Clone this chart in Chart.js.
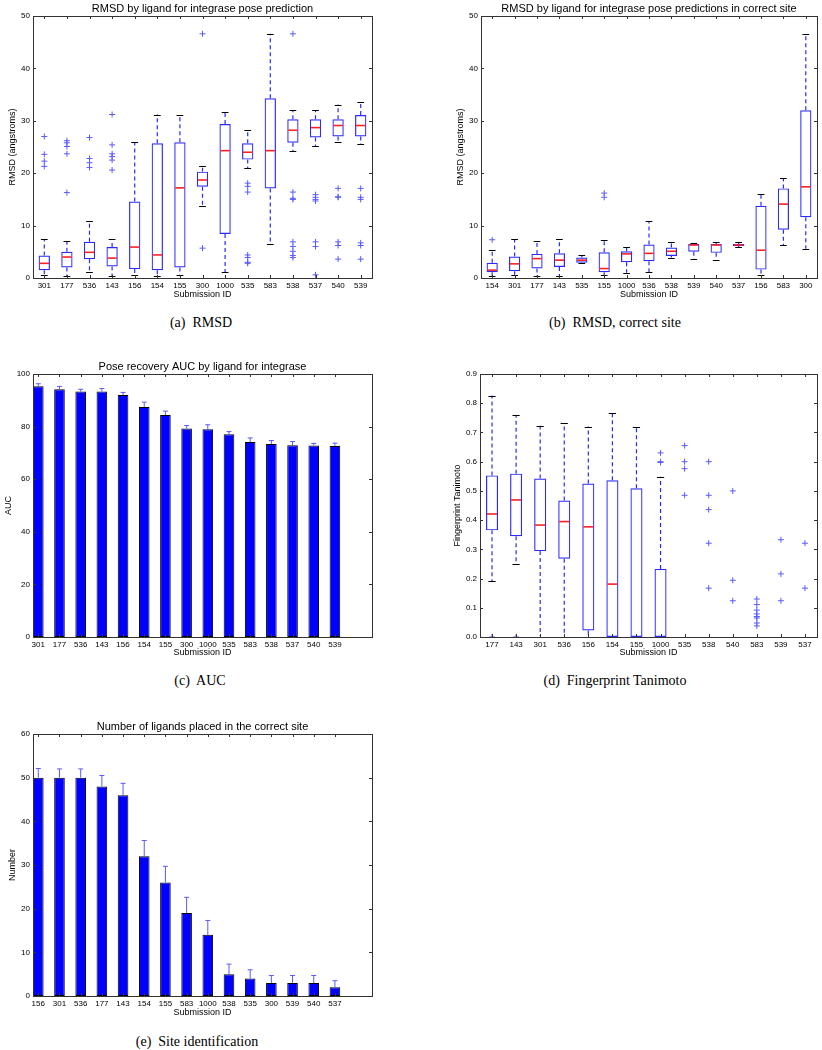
<!DOCTYPE html>
<html>
<head>
<meta charset="utf-8">
<script src="https://cdn.jsdelivr.net/npm/chart.js@4.4.1/dist/chart.umd.min.js"></script>
<style>
  body { margin: 0; background: #fff; width: 822px; height: 1050px; position: relative; overflow: hidden; }
  canvas { position: absolute; }
  .cap { position: absolute; font: 14px "Liberation Serif", "Times New Roman", serif; transform: translate(-50%, -50%); white-space: nowrap; }
</style>
</head>
<body>
<canvas id="rmsd" width="411" height="305" style="left:0;top:0"></canvas>
<canvas id="rmsdSite" width="411" height="305" style="left:411px;top:0"></canvas>
<canvas id="auc" width="411" height="305" style="left:0;top:358px"></canvas>
<canvas id="tanimoto" width="411" height="305" style="left:411px;top:358px"></canvas>
<canvas id="site" width="411" height="305" style="left:0;top:718px"></canvas>
<div class="cap" style="left:201px;top:323px">(a)&nbsp; RMSD</div>
<div class="cap" style="left:615px;top:323px">(b)&nbsp; RMSD, correct site</div>
<div class="cap" style="left:200px;top:681px">(c)&nbsp; AUC</div>
<div class="cap" style="left:615px;top:681px">(d)&nbsp; Fingerprint Tanimoto</div>
<div class="cap" style="left:197px;top:1042px">(e)&nbsp; Site identification</div>
<script>
// (a) RMSD, all poses
const idsA = ['301', '177', '536', '143', '156', '154', '155', '300', '1000', '535', '583', '538', '537', '540', '539'];
const loA = [0.6, 0.4, 1.1, 0.4, 0.6, 0.4, 0.6, 13.7, 1.1, 21.0, 6.4, 24.2, 25.1, 26.0, 25.5];
const q1A = [1.5, 2.0, 3.6, 2.2, 1.7, 1.5, 2.0, 17.4, 8.4, 22.6, 17.1, 25.8, 26.8, 27.0, 27.0];
const medA = [2.8, 4.0, 4.9, 3.8, 5.9, 4.4, 17.2, 18.7, 24.3, 24.0, 24.3, 28.2, 28.7, 29.1, 29.1];
const q3A = [4.3, 5.0, 6.9, 5.9, 14.6, 25.7, 25.9, 20.3, 29.4, 25.7, 34.3, 30.3, 30.3, 30.3, 31.1];
const hiA = [7.4, 7.0, 10.8, 7.4, 25.9, 31.2, 31.2, 21.4, 31.7, 28.2, 46.6, 32.0, 32.0, 33.1, 33.6];
const outA = [
  [27.0, 23.6, 22.3, 21.3],
  [26.2, 25.8, 25.1, 23.7, 16.3],
  [26.8, 22.8, 22.0, 21.1],
  [31.2, 25.4, 23.7, 23.2, 22.5, 20.6],
  [], [], [],
  [46.6, 5.7],
  [],
  [18.1, 17.5, 16.4, 4.4, 3.9, 3.0, 2.8],
  [],
  [46.6, 16.4, 15.2, 15.0, 6.9, 6.0, 5.1, 4.3, 3.9],
  [15.9, 15.4, 15.0, 14.7, 6.9, 6.0, 0.6],
  [17.1, 15.5, 15.4, 6.9, 6.2, 3.6],
  [17.1, 15.4, 15.0, 6.7, 6.2, 3.6]
];

// (b) RMSD, poses in the correct site
const idsB = ['154', '301', '177', '143', '535', '155', '1000', '536', '538', '539', '540', '537', '156', '583', '300'];
const loB = [0.4, 0.6, 0.4, 0.4, 2.8, 0.5, 1.0, 1.1, 3.9, 3.6, 3.5, 5.9, 0.5, 6.3, 5.6];
const q1B = [1.1, 1.3, 1.8, 2.1, 2.9, 1.1, 3.0, 3.2, 4.2, 5.0, 4.8, 6.1, 1.6, 9.2, 11.6];
const medB = [1.5, 2.7, 3.7, 3.4, 3.4, 1.8, 4.6, 4.7, 5.1, 6.3, 6.3, 6.3, 5.3, 14.1, 17.4];
const q3B = [2.9, 4.1, 4.6, 4.7, 3.9, 4.9, 5.1, 6.4, 5.8, 6.5, 6.5, 6.5, 13.8, 17.1, 32.0];
const hiB = [5.3, 7.4, 7.0, 7.4, 4.3, 7.2, 6.0, 10.8, 6.8, 6.7, 6.8, 6.8, 16.0, 19.0, 46.6];
const outB = [[7.3], [], [], [], [], [16.2, 15.4], [], [], [], [], [], [], [], [], []];

// (c) pose recovery AUC
const idsC = ['301', '177', '536', '143', '156', '154', '155', '300', '1000', '535', '583', '538', '537', '540', '539'];
const aucC = [95.3, 94.2, 93.3, 93.3, 92.0, 87.5, 84.4, 79.3, 79.0, 77.1, 74.1, 73.4, 72.9, 72.8, 72.6];
const errC = [1.0, 1.1, 0.9, 1.2, 1.0, 1.8, 1.5, 1.1, 1.7, 1.0, 1.6, 1.3, 1.4, 0.8, 1.1];

// (d) fingerprint Tanimoto
const idsD = ['177', '143', '301', '536', '156', '154', '155', '1000', '535', '538', '540', '583', '539', '537'];
const loD = [0.19, 0.249, 0, 0, 0, 0, 0, 0, null, null, null, null, null, null];
const q1D = [0.365, 0.345, 0.294, 0.268, 0.022, 0, 0, 0, null, null, null, null, null, null];
const medD = [0.421, 0.469, 0.383, 0.395, 0.377, 0.181, 0, 0, null, null, null, null, null, null];
const q3D = [0.553, 0.559, 0.542, 0.467, 0.525, 0.536, 0.509, 0.233, null, null, null, null, null, null];
const hiD = [0.826, 0.758, 0.723, 0.732, 0.72, 0.765, 0.72, 0.548, null, null, null, null, null, null];
const outD = [
  [0.0], [0.0], [], [], [], [], [],
  [0.63, 0.6, 0.597],
  [0.655, 0.6, 0.576, 0.485],
  [0.6, 0.485, 0.436, 0.321, 0.167],
  [0.5, 0.194, 0.124],
  [0.13, 0.111, 0.092, 0.079, 0.07, 0.065, 0.048, 0.038],
  [0.333, 0.216, 0.124],
  [0.321, 0.167]
];

// (e) number of ligands placed in the correct site
const idsE = ['156', '301', '536', '177', '143', '154', '155', '583', '1000', '538', '535', '300', '539', '540', '537'];
const numE = [50, 50, 50, 48, 46, 32, 26, 19, 14, 5, 4, 3, 3, 3, 2];
const errE = [2.1, 2.0, 2.0, 2.5, 2.7, 3.6, 3.7, 3.6, 3.3, 2.3, 2.0, 1.7, 1.7, 1.7, 1.5];

const blue = '#2b2bff';
Chart.defaults.font.family = '"Liberation Sans", Arial, sans-serif';
Chart.defaults.color = '#000';
Chart.defaults.animation = false;
Chart.defaults.plugins.legend.display = false;
Chart.defaults.plugins.tooltip.enabled = false;

function seg(ctx, x0, y0, x1, y1) {
  ctx.beginPath();
  ctx.moveTo(x0, y0);
  ctx.lineTo(x1, y1);
  ctx.stroke();
}

// matlab style box round the plot with inward ticks
const frame = {
  id: 'frame',
  afterDraw(chart) {
    const { ctx, chartArea: a, scales: { x, y } } = chart;
    ctx.save();
    ctx.strokeStyle = '#333';
    ctx.lineWidth = 1;
    x.ticks.forEach(t => {
      const px = Math.round(x.getPixelForValue(t.value)) + 0.5;
      seg(ctx, px, a.bottom, px, a.bottom - 3);
      seg(ctx, px, a.top, px, a.top + 3);
    });
    y.ticks.forEach(t => {
      const py = Math.round(y.getPixelForValue(t.value)) + 0.5;
      seg(ctx, a.left, py, a.left + 3, py);
      seg(ctx, a.right, py, a.right - 3, py);
    });
    ctx.strokeRect(Math.round(a.left) + 0.5, Math.round(a.top) + 0.5, Math.round(a.width), Math.round(a.height));
    ctx.restore();
  }
};

function whiskers(lo, q1, med, q3, hi) {
  return {
    id: 'whiskers',
    afterDatasetsDraw(chart) {
      const { ctx, chartArea: a, scales: { x, y } } = chart;
      const unit = x.getPixelForValue(2) - x.getPixelForValue(1);
      ctx.save();
      ctx.beginPath();
      ctx.rect(a.left, a.top, a.width, a.height - 1);
      ctx.clip();
      lo.forEach((v, i) => {
        if (v === null) return;
        const cx = x.getPixelForValue(i + 1);
        ctx.strokeStyle = blue;
        ctx.lineWidth = 1.2;
        ctx.setLineDash([4, 3]);
        seg(ctx, cx, y.getPixelForValue(q3[i]), cx, y.getPixelForValue(hi[i]));
        seg(ctx, cx, y.getPixelForValue(q1[i]), cx, y.getPixelForValue(v));
        ctx.setLineDash([]);
        ctx.strokeStyle = '#000';
        ctx.lineWidth = 1;
        [v, hi[i]].forEach(w => {
          const py = Math.round(y.getPixelForValue(w)) + 0.5;
          seg(ctx, cx - unit * 0.15, py, cx + unit * 0.15, py);
        });
        ctx.strokeStyle = '#ff2020';
        ctx.lineWidth = 1.6;
        const pm = y.getPixelForValue(med[i]);
        seg(ctx, cx - unit * 0.25 + 1, pm, cx + unit * 0.25 - 1, pm);
      });
      ctx.restore();
    }
  };
}

function errorBars(vals, errs) {
  return {
    id: 'errorBars',
    afterDatasetsDraw(chart) {
      const { ctx, scales: { x, y } } = chart;
      ctx.save();
      ctx.strokeStyle = '#5a5aff';
      ctx.lineWidth = 1;
      vals.forEach((v, i) => {
        const cx = x.getPixelForValue(i + 1);
        const top = y.getPixelForValue(v + errs[i]);
        seg(ctx, cx, y.getPixelForValue(v), cx, top);
        seg(ctx, cx - 2.5, top, cx + 2.5, top);
      });
      ctx.restore();
    }
  };
}

function axes(ids, xmin, xmax, ymax, step, yTitle, yWidth, yTitlePad, xHeight, fmt) {
  return {
    x: {
      type: 'linear', min: xmin, max: xmax, offset: false,
      afterBuildTicks: s => { s.ticks = ids.map((_, i) => ({ value: i + 1 })); },
      afterFit: s => { s.height = xHeight; },
      grid: { display: false, drawTicks: false },
      border: { display: false },
      ticks: { padding: 3, autoSkip: false, maxRotation: 0, font: { size: 8 }, callback: v => ids[v - 1] },
      title: { display: true, text: 'Submission ID', font: { size: 9 }, padding: { top: 0, bottom: 4.6 } }
    },
    y: {
      min: 0, max: ymax,
      afterFit: s => { s.width = yWidth; },
      grid: { display: false, drawTicks: false },
      border: { display: false },
      ticks: { stepSize: step, padding: 3, font: { size: 8 }, callback: fmt || (v => v) },
      title: { display: true, text: yTitle, font: { size: 9 }, padding: { top: yTitlePad, bottom: 0 } }
    }
  };
}

function title(text, top, bottom) {
  return { display: true, text: text, fullSize: false, color: '#000', font: { size: 11, weight: 'normal' }, padding: { top: top, bottom: bottom } };
}

function boxData(q1, q3) {
  const d = [];
  q1.forEach((v, i) => { if (v !== null) d.push({ x: i + 1, y: [v, q3[i]] }); });
  return d;
}

function outlierData(out) {
  const d = [];
  out.forEach((list, i) => list.forEach(v => d.push({ x: i + 1, y: v })));
  return d;
}

function boxDatasets(q1, q3, out) {
  return [
    { type: 'bar', data: boxData(q1, q3), backgroundColor: 'rgba(255,255,255,0)', borderColor: blue,
      borderWidth: 1.2, borderSkipped: false, barPercentage: 0.5, categoryPercentage: 1 },
    { type: 'scatter', data: outlierData(out), pointStyle: 'cross', radius: 3, borderWidth: 1,
      borderColor: '#5a5aff' }
  ];
}

new Chart(document.getElementById('rmsd'), {
  type: 'bar',
  data: { datasets: boxDatasets(q1A, q3A, outA) },
  options: {
    responsive: false,
    layout: { padding: { left: 0, right: 39, top: 0, bottom: 0 } },
    plugins: { title: title('RMSD by ligand for integrase pose prediction', 2.4, 0.4) },
    scales: axes(idsA, 0.5, 15.5, 50, 10, 'RMSD (angstroms)', 33, 7.6, 27)
  },
  plugins: [whiskers(loA, q1A, medA, q3A, hiA), frame]
});

new Chart(document.getElementById('rmsdSite'), {
  type: 'bar',
  data: { datasets: boxDatasets(q1B, q3B, outB) },
  options: {
    responsive: false,
    layout: { padding: { left: 0, right: 3, top: 0, bottom: 0 } },
    plugins: { title: title('RMSD by ligand for integrase pose predictions in correct site', 2.4, 0.4) },
    scales: axes(idsB, 0.5, 15.5, 50, 10, 'RMSD (angstroms)', 70, 44, 27)
  },
  plugins: [whiskers(loB, q1B, medB, q3B, hiB), frame]
});

new Chart(document.getElementById('auc'), {
  type: 'bar',
  data: {
    datasets: [{
      data: aucC.map((v, i) => ({ x: i + 1, y: v })),
      backgroundColor: '#0000ff', borderColor: '#000', borderWidth: 1,
      borderSkipped: false, barPercentage: 0.5, categoryPercentage: 1
    }]
  },
  options: {
    responsive: false,
    layout: { padding: { left: 0, right: 39, top: 0, bottom: 0 } },
    plugins: { title: title('Pose recovery AUC by ligand for integrase', 2.8, 0) },
    scales: axes(idsC, 0.75, 16.75, 100, 20, 'AUC', 33, 3, 26)
  },
  plugins: [errorBars(aucC, errC), frame]
});

new Chart(document.getElementById('tanimoto'), {
  type: 'bar',
  data: { datasets: boxDatasets(q1D, q3D, outD) },
  options: {
    responsive: false,
    layout: { padding: { left: 0, right: 3, top: 16, bottom: 0 } },
    scales: axes(idsD, 0.5, 14.5, 0.9, 0.1, 'Fingerprint Tanimoto', 69, 41.3, 26, v => v.toFixed(1))
  },
  plugins: [whiskers(loD, q1D, medD, q3D, hiD), frame]
});

new Chart(document.getElementById('site'), {
  type: 'bar',
  data: {
    datasets: [{
      data: numE.map((v, i) => ({ x: i + 1, y: v })),
      backgroundColor: '#0000ff', borderColor: '#000', borderWidth: 1,
      borderSkipped: false, barPercentage: 0.5, categoryPercentage: 1
    }]
  },
  options: {
    responsive: false,
    layout: { padding: { left: 0, right: 39, top: 0, bottom: 0 } },
    plugins: { title: title('Number of ligands placed in the correct site', 2.4, 0.4) },
    scales: axes(idsE, 0.75, 16.75, 60, 10, 'Number', 33, 7.3, 27)
  },
  plugins: [errorBars(numE, errE), frame]
});
</script>
</body>
</html>
